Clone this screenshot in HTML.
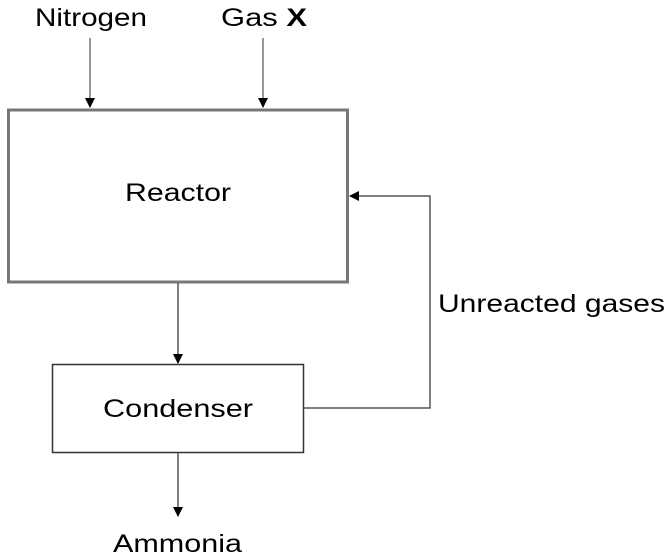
<!DOCTYPE html>
<html><head><style>
body{margin:0;background:#fff;}
svg{display:block;font-family:"Liberation Sans",sans-serif;}
</style></head><body>
<svg width="671" height="559" viewBox="0 0 671 559">
<defs><marker id="ah" markerWidth="10" markerHeight="10" refX="9" refY="5" orient="auto" markerUnits="userSpaceOnUse"><path d="M0,0 L10,5 L0,10 Z" fill="#000"/></marker></defs>
<g>
<text x="35" y="26" font-size="25" textLength="112" lengthAdjust="spacingAndGlyphs" fill="#000">Nitrogen</text>
<line x1="90" y1="38" x2="90" y2="107" stroke="#777" stroke-width="1.5" marker-end="url(#ah)"/>
</g>
<g>
<text x="221" y="26" font-size="25" textLength="86" lengthAdjust="spacingAndGlyphs" fill="#000">Gas <tspan font-weight="bold">X</tspan></text>
<line x1="263" y1="38" x2="263" y2="107" stroke="#777" stroke-width="1.5" marker-end="url(#ah)"/>
</g>
<rect x="8.5" y="110" width="339" height="172" fill="none" stroke="#777" stroke-width="3"/>
<text x="125" y="201" font-size="25" textLength="106" lengthAdjust="spacingAndGlyphs">Reactor</text>
<line x1="178" y1="283" x2="178" y2="363" stroke="#555" stroke-width="1.5" marker-end="url(#ah)"/>
<rect x="52.5" y="364.5" width="251" height="88" fill="none" stroke="#333" stroke-width="1.5"/>
<text x="103" y="417" font-size="25" textLength="150" lengthAdjust="spacingAndGlyphs">Condenser</text>
<line x1="178" y1="453" x2="178" y2="516" stroke="#555" stroke-width="1.5" marker-end="url(#ah)"/>
<text x="113" y="552" font-size="25" textLength="129" lengthAdjust="spacingAndGlyphs">Ammonia</text>
<polyline points="304,408 430,408 430,196 350,196" fill="none" stroke="#555" stroke-width="1.5" marker-end="url(#ah)"/>
<text x="438" y="312" font-size="25" textLength="227" lengthAdjust="spacingAndGlyphs">Unreacted gases</text>
</svg>
</body></html>
